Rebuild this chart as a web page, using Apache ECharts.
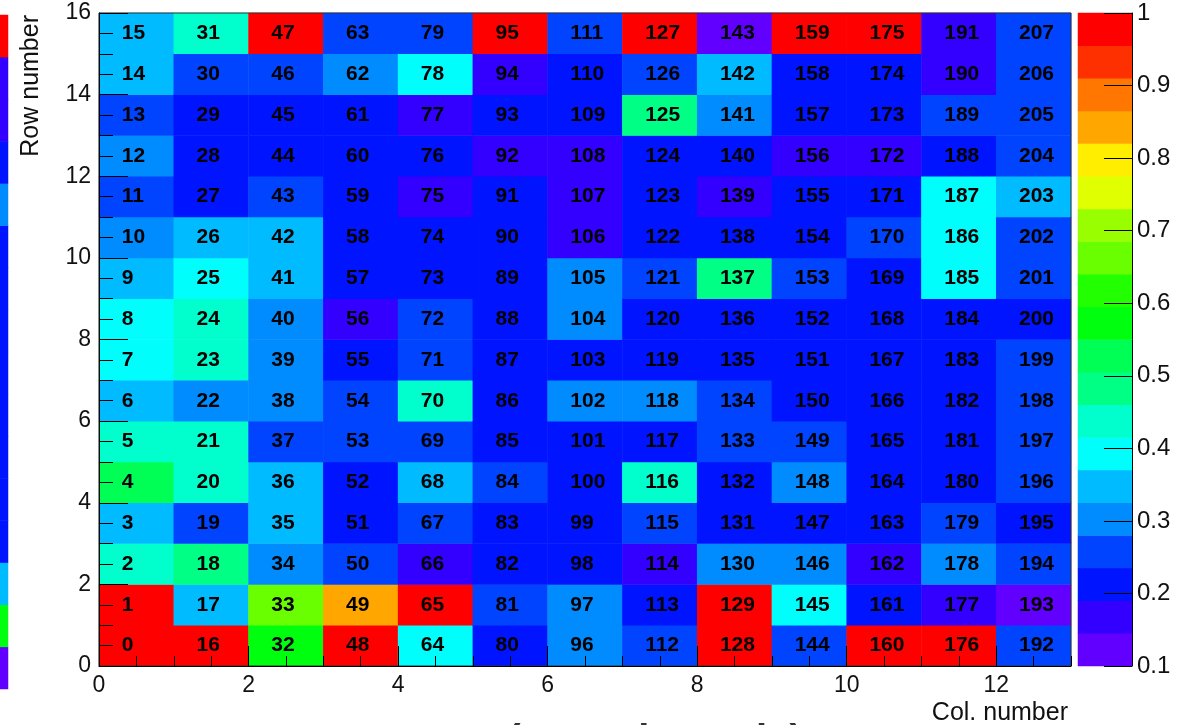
<!DOCTYPE html>
<html>
<head>
<meta charset="utf-8">
<script src="https://cdn.jsdelivr.net/npm/echarts@6.0.0/dist/echarts.min.js"></script>
<style>
  html, body { margin: 0; padding: 0; background: #fff; }
  #chart { width: 1177px; height: 725px; }
</style>
</head>
<body>
<div id="chart"></div>
<script>
// Response per column, rows 0..15 (bottom to top)
const col0  = [1.00, 1.00, 0.44, 0.35, 0.53, 0.43, 0.35, 0.39, 0.40, 0.36, 0.30, 0.26, 0.31, 0.25, 0.35, 0.34];
const col1  = [1.00, 0.35, 0.48, 0.26, 0.44, 0.43, 0.30, 0.44, 0.43, 0.39, 0.35, 0.21, 0.21, 0.22, 0.25, 0.44];
const col2  = [0.57, 0.66, 0.30, 0.35, 0.34, 0.26, 0.30, 0.31, 0.30, 0.35, 0.35, 0.26, 0.21, 0.21, 0.25, 1.00];
const col3  = [1.00, 0.84, 0.26, 0.21, 0.21, 0.25, 0.26, 0.21, 0.17, 0.21, 0.22, 0.21, 0.21, 0.20, 0.30, 0.26];
const col4  = [0.39, 1.00, 0.17, 0.26, 0.35, 0.25, 0.44, 0.26, 0.26, 0.21, 0.21, 0.17, 0.21, 0.17, 0.39, 0.25];
const col5  = [0.21, 0.26, 0.21, 0.21, 0.25, 0.21, 0.21, 0.21, 0.21, 0.21, 0.21, 0.21, 0.17, 0.21, 0.17, 1.00];
const col6  = [0.30, 0.30, 0.21, 0.21, 0.21, 0.21, 0.30, 0.21, 0.30, 0.30, 0.17, 0.17, 0.17, 0.21, 0.21, 0.26];
const col7  = [0.26, 0.21, 0.17, 0.26, 0.44, 0.21, 0.30, 0.21, 0.21, 0.26, 0.21, 0.21, 0.21, 0.48, 0.26, 1.00];
const col8  = [1.00, 1.00, 0.30, 0.21, 0.21, 0.26, 0.26, 0.21, 0.21, 0.48, 0.21, 0.17, 0.21, 0.30, 0.35, 0.12];
const col9  = [0.26, 0.39, 0.30, 0.21, 0.30, 0.26, 0.21, 0.21, 0.21, 0.26, 0.21, 0.21, 0.17, 0.21, 0.21, 1.00];
const col10 = [1.00, 0.21, 0.17, 0.21, 0.21, 0.21, 0.21, 0.21, 0.21, 0.21, 0.26, 0.21, 0.17, 0.21, 0.21, 1.00];
const col11 = [1.00, 0.17, 0.30, 0.26, 0.21, 0.21, 0.21, 0.21, 0.21, 0.39, 0.39, 0.39, 0.21, 0.26, 0.17, 0.17];
const col12 = [0.26, 0.12, 0.26, 0.21, 0.26, 0.26, 0.26, 0.26, 0.21, 0.26, 0.26, 0.35, 0.26, 0.26, 0.26, 0.26];

// Edge column of the neighbouring pad, rows 0..15
const neighbourCol = [0.12, 0.57, 0.35, 0.21, 0.21, 0.21, 0.21, 0.21, 0.21, 0.21, 0.21, 0.30, 0.21, 0.17, 0.17, 1.00];

const rowsPerCol = 16;
const nCols = 13;

// Contour levels of the colour scale
const levelMin = 0.1;
const levelMax = 1.0;
const bandColors = [
  '#6200FF', '#3300FF', '#0014FF', '#0044FF', '#008BFF',
  '#00BBFF', '#00FFFC', '#00FFCC', '#00FF85', '#00FF55',
  '#00FF0E', '#22FF00', '#69FF00', '#99FF00', '#E0FF00',
  '#FFEE00', '#FFA700', '#FF7700', '#FF3000', '#FF0000'
];
const nLevels = bandColors.length;
const step = (levelMax - levelMin) / nLevels;

const columns = [col0, col1, col2, col3, col4, col5, col6, col7, col8, col9, col10, col11, col12];
const cells = [];
columns.forEach((vals, c) => vals.forEach((v, r) => cells.push([c, r, v])));

const neighbourCells = neighbourCol.map((v, r) => [0, r, v]);
const scaleCells = bandColors.map((_, k) => [0, k, levelMin + (k + 0.5) * step]);

const pieces = bandColors.map((color, k) => {
  const lo = levelMin + k * step;
  const hi = levelMin + (k + 1) * step;
  return k === nLevels - 1 ? { gte: lo, lte: levelMax, color } : { gte: lo, lt: hi, color };
});

const FONT = 'Liberation Sans, Arial, Helvetica, sans-serif';
const idx = n => Array.from({ length: n }, (_, i) => String(i));

const chart = echarts.init(document.getElementById('chart'), null, { renderer: 'canvas' });

const hiddenCat = (gridIndex, data, position) => ({
  type: 'category', gridIndex, data, position, show: false
});

const tickStyle = { color: '#000', width: 1 };

chart.setOption({
  animation: false,
  backgroundColor: '#ffffff',
  grid: [
    { left: 99, top: 13, width: 972, height: 653, show: true, borderColor: '#333', borderWidth: 1, backgroundColor: 'transparent', z: 6 },
    { left: 1078, top: 13, width: 54, height: 653 },
    { left: 0, top: 15, width: 8, height: 674 }
  ],
  visualMap: {
    type: 'piecewise',
    show: false,
    dimension: 2,
    seriesIndex: [0, 1, 2],
    pieces
  },
  xAxis: [
    hiddenCat(0, idx(nCols), 'bottom'),
    {
      type: 'value', gridIndex: 0, position: 'bottom', offset: 0, min: 0, max: nCols, interval: 0.5, z: 10,
      axisLine: { show: false },
      axisTick: { show: true, inside: true, length: 10, lineStyle: tickStyle },
      axisLabel: { show: false }, splitLine: { show: false }
    },
    {
      type: 'value', gridIndex: 0, position: 'bottom', offset: 0, min: 0, max: nCols, interval: 2, z: 10,
      axisLine: { show: true, onZero: false, lineStyle: tickStyle },
      axisTick: { show: true, inside: true, length: 20, lineStyle: tickStyle },
      axisLabel: { show: true, showMaxLabel: false, margin: 8, fontFamily: FONT, fontSize: 23, color: '#111' },
      splitLine: { show: false }
    },
    hiddenCat(1, [''], 'bottom'),
    hiddenCat(2, [''], 'bottom')
  ],
  yAxis: [
    hiddenCat(0, idx(rowsPerCol), 'left'),
    {
      type: 'value', gridIndex: 0, position: 'left', offset: 0, min: 0, max: rowsPerCol, interval: 0.5, z: 10,
      axisLine: { show: false },
      axisTick: { show: true, inside: true, length: 14, lineStyle: tickStyle },
      axisLabel: { show: false }, splitLine: { show: false }
    },
    {
      type: 'value', gridIndex: 0, position: 'left', offset: 0, min: 0, max: rowsPerCol, interval: 2, z: 10,
      axisLine: { show: true, onZero: false, lineStyle: tickStyle },
      axisTick: { show: true, inside: true, length: 29, lineStyle: tickStyle },
      axisLabel: { show: true, margin: 8, fontFamily: FONT, fontSize: 23, color: '#111' },
      splitLine: { show: false }
    },
    hiddenCat(1, idx(nLevels), 'left'),
    {
      type: 'value', gridIndex: 1, position: 'right', offset: 0, min: levelMin, max: levelMax, interval: 0.1, z: 10,
      axisLine: { show: true, onZero: false, lineStyle: tickStyle },
      axisTick: { show: true, inside: true, length: 28, lineStyle: tickStyle },
      axisLabel: {
        show: true, margin: 5, fontFamily: FONT, fontSize: 24, color: '#111',
        formatter: v => String(+v.toFixed(2))
      },
      splitLine: { show: false }
    },
    hiddenCat(2, idx(rowsPerCol), 'left')
  ],
  series: [
    {
      type: 'heatmap',
      xAxisIndex: 0, yAxisIndex: 0,
      data: cells,
      itemStyle: { borderWidth: 0 },
      emphasis: { disabled: true },
      label: {
        show: true,
        position: [23, '50%'],
        align: 'left',
        verticalAlign: 'middle',
        fontFamily: FONT,
        fontWeight: 'bold',
        fontSize: 21,
        color: '#000',
        formatter: p => String(p.value[0] * rowsPerCol + p.value[1])
      },
      z: 1
    },
    {
      type: 'heatmap',
      xAxisIndex: 3, yAxisIndex: 3,
      data: scaleCells,
      itemStyle: { borderWidth: 0 },
      emphasis: { disabled: true },
      label: { show: false },
      z: 1
    },
    {
      type: 'heatmap',
      xAxisIndex: 4, yAxisIndex: 5,
      data: neighbourCells,
      itemStyle: { borderWidth: 0 },
      emphasis: { disabled: true },
      label: { show: false },
      z: 1
    }
  ],
  graphic: [
    {
      type: 'text', x: 31, y: 15, rotation: Math.PI / 2,
      style: { text: 'Row number', fontFamily: FONT, fontSize: 25, fill: '#111', align: 'right', verticalAlign: 'middle' }
    },
    {
      type: 'text', x: 1068, y: 713,
      style: { text: 'Col. number', fontFamily: FONT, fontSize: 25, fill: '#111', align: 'right', verticalAlign: 'middle' }
    },
    {
      type: 'text', x: 655, y: 722,
      style: { text: '(APC channels)', fontFamily: FONT, fontSize: 40, fontWeight: 'bold', fill: '#333', align: 'center', verticalAlign: 'top' }
    }
  ]
});
</script>
</body>
</html>
